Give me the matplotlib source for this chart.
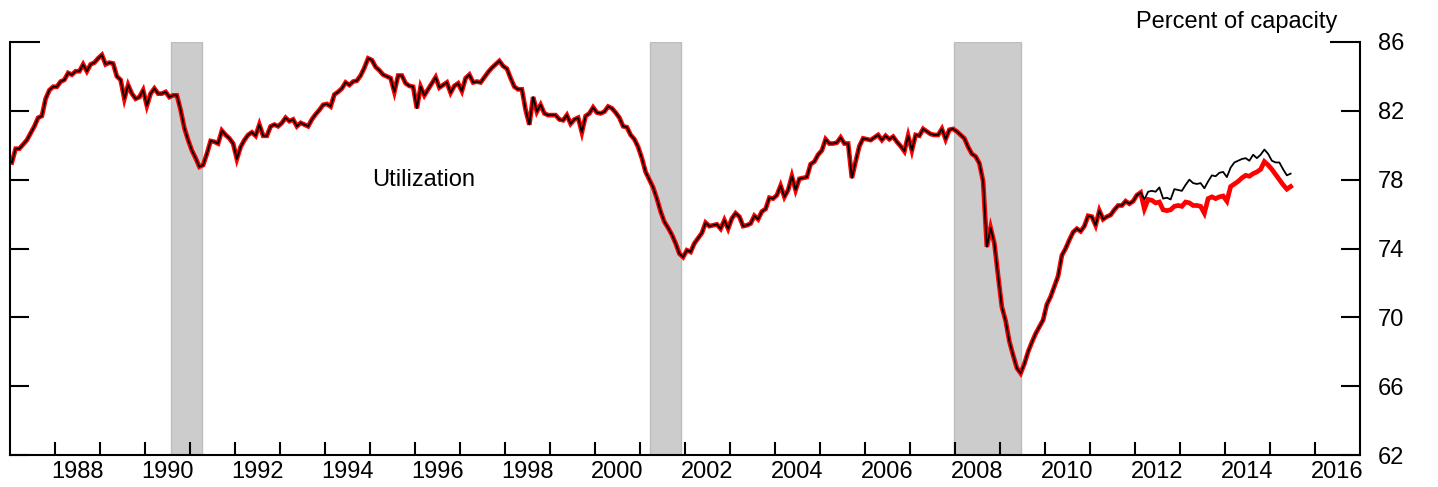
import numpy as np
import matplotlib
matplotlib.use("Agg")
import matplotlib.pyplot as plt

plt.rcParams['font.family'] = ['Liberation Sans', 'DejaVu Sans']

# monthly capacity utilization, Jan 1987 - Feb 2012 (both vintages agree here)
util_common = [
    79.0, 79.8, 79.8, 80.05, 80.3, 80.7, 81.1, 81.6, 81.7, 82.7, 83.2, 83.4,      # 1987
    83.4, 83.7, 83.8, 84.2, 84.1, 84.3, 84.3, 84.7, 84.3, 84.7, 84.8, 85.05,      # 1988
    85.25, 84.7, 84.8, 84.75, 84.0, 83.8, 82.7, 83.5, 83.0, 82.7, 82.8, 83.2,     # 1989
    82.3, 83.0, 83.3, 83.0, 83.0, 83.1, 82.8, 82.9, 82.9, 82.05, 81.0, 80.3,      # 1990
    79.7, 79.25, 78.75, 78.85, 79.5, 80.25, 80.2, 80.1, 80.85, 80.6, 80.4, 80.1,  # 1991
    79.2, 79.9, 80.3, 80.6, 80.75, 80.55, 81.2, 80.55, 80.55, 81.1, 81.2, 81.1,   # 1992
    81.3, 81.6, 81.4, 81.5, 81.1, 81.3, 81.2, 81.1, 81.5, 81.8, 82.05, 82.35,     # 1993
    82.4, 82.25, 82.95, 83.1, 83.3, 83.65, 83.5, 83.7, 83.75, 84.05, 84.5, 85.05, # 1994
    84.95, 84.55, 84.35, 84.1, 84.0, 83.9, 83.1, 84.05, 84.05, 83.6, 83.45, 83.4, # 1995
    82.15, 83.4, 82.9, 83.25, 83.6, 83.95, 83.35, 83.5, 83.65, 83.05, 83.45, 83.6,# 1996
    83.15, 83.9, 84.1, 83.65, 83.7, 83.65, 83.95, 84.25, 84.5, 84.7, 84.9, 84.6,  # 1997
    84.45, 83.9, 83.4, 83.25, 83.25, 82.05, 81.2, 82.8, 81.95, 82.35, 81.85, 81.75,  # 1998
    81.75, 81.75, 81.5, 81.45, 81.75, 81.25, 81.5, 81.6, 80.75, 81.7, 81.85, 82.2,   # 1999
    81.9, 81.85, 81.95, 82.25, 82.15, 81.9, 81.6, 81.1, 81.05, 80.6, 80.35, 79.9,    # 2000
    79.25, 78.45, 78.0, 77.55, 76.9, 76.15, 75.55, 75.2, 74.8, 74.3, 73.7, 73.5,     # 2001
    73.9, 73.8, 74.3, 74.6, 74.9, 75.5, 75.3, 75.35, 75.4, 75.15, 75.65, 75.15,      # 2002
    75.75, 76.05, 75.85, 75.3, 75.35, 75.45, 75.9, 75.7, 76.15, 76.3, 76.95, 76.9,   # 2003
    77.1, 77.65, 77.0, 77.4, 78.2, 77.4, 78.05, 78.1, 78.15, 78.9, 79.05, 79.45,     # 2004
    79.7, 80.35, 80.1, 80.1, 80.15, 80.45, 80.1, 80.1, 78.1, 79.05, 79.95, 80.4,     # 2005
    80.35, 80.3, 80.45, 80.6, 80.3, 80.55, 80.35, 80.5, 80.2, 79.95, 79.65, 80.55,   # 2006
    79.7, 80.6, 80.55, 80.95, 80.8, 80.65, 80.6, 80.6, 80.95, 80.35, 80.9, 80.95,    # 2007
    80.8, 80.6, 80.4, 79.9, 79.5, 79.35, 78.95, 77.9, 74.1, 75.2, 74.3, 72.4,        # 2008
    70.6, 69.8, 68.6, 67.8, 67.05, 66.75, 67.3, 68.0, 68.55, 69.05, 69.45, 69.85,    # 2009
    70.75, 71.2, 71.8, 72.4, 73.6, 74.0, 74.5, 74.95, 75.15, 75.0, 75.3, 75.9,       # 2010
    75.85, 75.35, 76.2, 75.7, 75.85, 75.95, 76.25, 76.5, 76.5, 76.75, 76.6, 76.75,   # 2011
    77.1, 77.25,                                                                     # 2012
]

# Mar 2012 - Jun 2015
util_revised_tail = [
    76.3, 76.85, 76.8, 76.65, 76.7, 76.25, 76.2, 76.25, 76.45, 76.5,
    76.45, 76.7, 76.65, 76.5, 76.5, 76.45, 76.05, 76.9, 77.0, 76.9, 77.0, 77.05,
    76.75, 77.6, 77.75, 77.9, 78.1, 78.25, 78.2, 78.35, 78.45, 78.6, 79.05, 78.85,
    78.6, 78.3, 78.0, 77.7, 77.45, 77.6,
]
util_previous_tail = [
    76.85, 77.3, 77.35, 77.3, 77.55, 76.9, 76.95, 76.85, 77.45, 77.4,
    77.35, 77.7, 78.0, 77.8, 77.75, 77.8, 77.5, 77.9, 78.25, 78.2, 78.4, 78.45,
    78.15, 78.7, 79.0, 79.1, 79.2, 79.25, 79.1, 79.45, 79.25, 79.45, 79.75, 79.5,
    79.1, 79.0, 79.0, 78.6, 78.25, 78.35,
]

recessions = [(1990.57, 1991.26), (2001.23, 2001.92), (2007.98, 2009.47)]
ytick_values = [62, 66, 70, 74, 78, 82, 86]
xlabel_years = list(range(1988, 2017, 2))

revised = np.array(util_common + util_revised_tail)
previous = np.array(util_common + util_previous_tail)
t = 1987 + (np.arange(len(revised)) + 0.5) / 12.0

fig = plt.figure(figsize=(14.38, 4.87), dpi=100)
ax = fig.add_axes([10 / 1438, 32 / 487, 1350 / 1438, 413 / 487])

for start, end in recessions:
    ax.axvspan(start, end, facecolor='#cccccc', edgecolor='#bdbdbd', lw=1, zorder=0)

ax.plot(t, revised, color='#ff0000', lw=3.4, solid_joinstyle='miter', zorder=2)
ax.plot(t, previous, color='black', lw=1.3, zorder=3)

ax.set_xlim(1987, 2017)
ax.set_ylim(62, 86)

for side in ['left', 'bottom', 'right']:
    ax.spines[side].set_linewidth(1.5)
ax.spines['top'].set_visible(False)

# y axis: short ticks on both sides, longer tick at the top, labels on the right
ax.set_yticks(ytick_values[:-1])
ax.set_yticks(ytick_values[-1:], minor=True)
ax.set_yticklabels([str(v) for v in ytick_values[:-1]])
ax.set_yticklabels([str(ytick_values[-1])], minor=True)
ax.tick_params(axis='y', which='both', direction='in', left=True, right=True,
               labelleft=False, labelright=True, width=1.5, pad=12.7, labelsize=17)
ax.tick_params(axis='y', which='major', length=13.5)
ax.tick_params(axis='y', which='minor', length=21.6)

# x axis: yearly ticks, labels centred in even years
ax.set_xticks(range(1988, 2017))
ax.set_xticklabels([])
ax.set_xticks([y + 0.5 for y in xlabel_years], minor=True)
ax.set_xticklabels([str(y) for y in xlabel_years], minor=True)
ax.tick_params(axis='x', which='major', direction='in', length=9.4, width=1.5)
ax.tick_params(axis='x', which='minor', length=0, pad=4, labelsize=17)

ax.text(1995.04, 78.0, 'Utilization', fontsize=17, va='center', ha='left')
fig.text(1337 / 1438, (487 - 28) / 487, 'Percent of capacity', fontsize=17,
         ha='right', va='baseline')

fig.savefig('out.png', dpi=100)
